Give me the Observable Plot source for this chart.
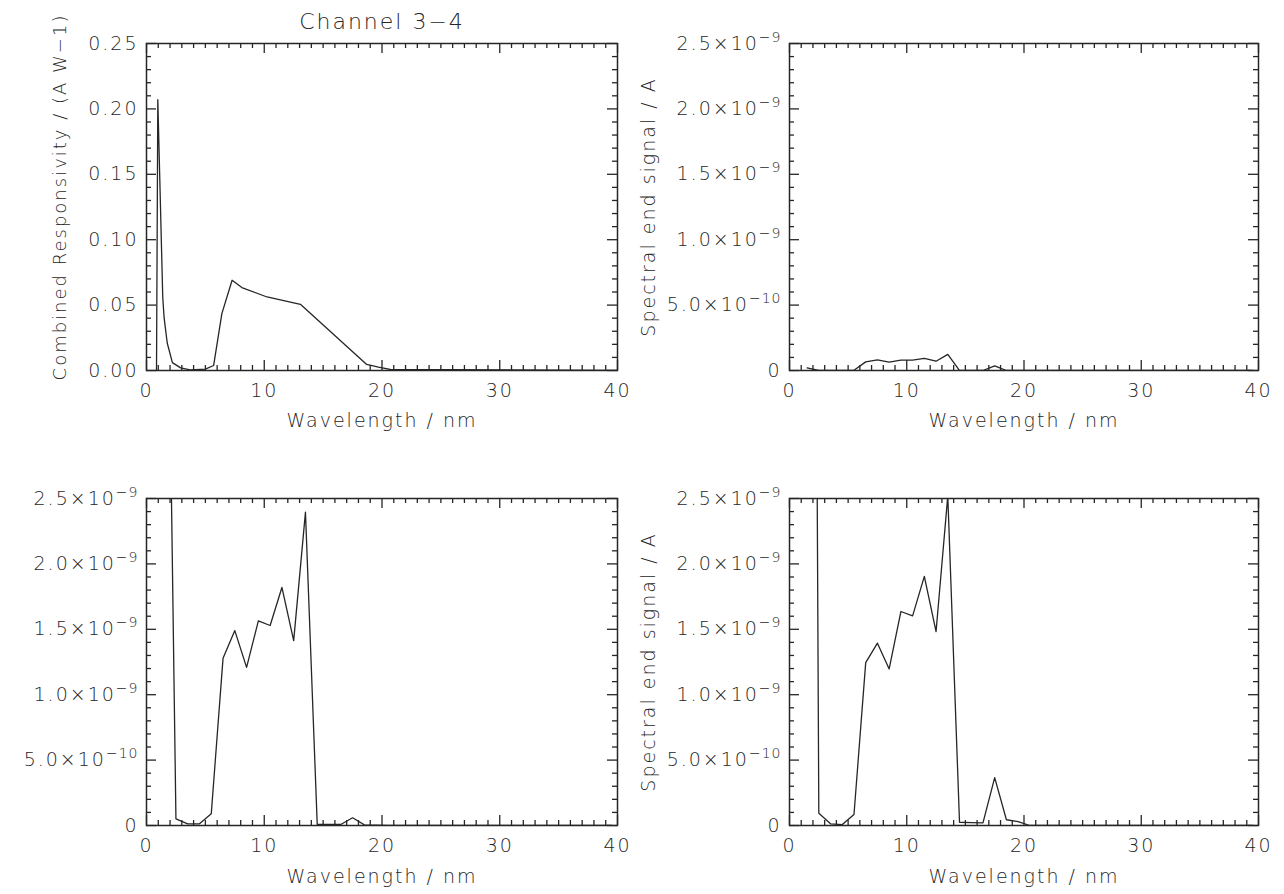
<!DOCTYPE html>
<html><head><meta charset="utf-8">
<script src="https://cdn.jsdelivr.net/npm/d3@7"></script>
<script src="https://cdn.jsdelivr.net/npm/@observablehq/plot@0.6"></script>
<style>
body{margin:0;background:#fff;}
#root{position:relative;width:1284px;height:894px;background:#fff;overflow:hidden;}
.panel{position:absolute;}
.panel svg{overflow:visible;}
</style></head><body><div id="root"></div>
<script>
const FONT = '"DejaVu Sans", sans-serif';
const INK = "#262626";

const title = "Channel 3−4";
const xLabel = "Wavelength / nm";
const yLabelResp = "Combined Responsivity / (A W−1)";
const yLabelSig = "Spectral end signal / A";

const xTicks = [0, 10, 20, 30, 40];
const xTickLabels = ["0", "10", "20", "30", "40"];
const respTicks = [0, 0.05, 0.10, 0.15, 0.20, 0.25];
const respTickLabels = ["0.00", "0.05", "0.10", "0.15", "0.20", "0.25"];
const sigTicks = [0, 5e-10, 1e-9, 1.5e-9, 2e-9, 2.5e-9];
const sigTickLabels = ["0", "5.0×10^−10", "1.0×10^−9", "1.5×10^−9", "2.0×10^−9", "2.5×10^−9"];

// Top-left: combined responsivity
const respWavelength = [0.85, 0.96, 1.38, 1.5, 1.76, 2.2, 2.9, 3.7, 5.0, 5.7, 6.4, 7.27, 8.1, 10.24, 13.07, 18.7, 19.7, 20.7, 40];
const respValue      = [0, 0.207, 0.056, 0.040, 0.021, 0.006, 0.002, 0.0005, 0.001, 0.0038, 0.0435, 0.069, 0.0634, 0.0562, 0.0506, 0.0046, 0.0025, 0.0008, 0];

// Spectral end signal panels (A)
const sigWavelength = [1.5, 2.5, 3.5, 4.5, 5.5, 6.5, 7.5, 8.5, 9.5, 10.5, 11.5, 12.5, 13.5, 14.5, 15.5, 16.5, 17.5, 18.5, 19.5, 20.5, 39.5];
const sigTopRight    = [2.0e-11, 0, 0, 0, 2e-12, 6.6e-11, 8.1e-11, 6.4e-11, 7.9e-11, 7.9e-11, 9.2e-11, 7.1e-11, 1.23e-10, 0, 0, 0, 3.5e-11, 0, 0, 0, 0];
const sigBottomLeft  = [6.5e-9, 5.1e-11, 1.3e-11, 1.3e-11, 9.0e-11, 1.278e-9, 1.49e-9, 1.209e-9, 1.565e-9, 1.529e-9, 1.82e-9, 1.413e-9, 2.396e-9, 8e-12, 8e-12, 8e-12, 5.9e-11, 5e-12, 2e-12, 0, 0];
const sigBottomRight = [1.8e-8, 9.4e-11, 1.3e-11, 7e-12, 8.4e-11, 1.245e-9, 1.394e-9, 1.197e-9, 1.636e-9, 1.603e-9, 1.905e-9, 1.483e-9, 2.52e-9, 2.5e-11, 2.2e-11, 2.0e-11, 3.66e-10, 4.4e-11, 3.0e-11, 0, 0];

function superscripts(svg) {
  svg.querySelectorAll("text").forEach(t => {
    const s = t.textContent;
    const k = s.indexOf("^");
    if (k < 0) return;
    t.textContent = "";
    const ns = "http://www.w3.org/2000/svg";
    const a = document.createElementNS(ns, "tspan");
    a.textContent = s.slice(0, k);
    const b = document.createElementNS(ns, "tspan");
    b.textContent = s.slice(k + 1);
    b.setAttribute("dy", "-8");
    b.setAttribute("font-size", "14");
    b.setAttribute("letter-spacing", "1");
    t.appendChild(a); t.appendChild(b);
  });
}

function panel(o) {
  const W = 642, H = 447;
  const fh = H - o.mTop - o.mBottom;
  const fw = W - o.mLeft - o.mRight;
  const data = o.xs.map((x, i) => ({x, y: o.ys[i]}));
  const xMinor = d3.range(1, 40).filter(d => d % 10 !== 0);
  const yMinor = d3.range(1, 25).filter(d => d % 5 !== 0).map(d => d * o.yMinorStep);
  const sw = 1.3;
  const marks = [
    Plot.line(data, {x: "x", y: "y", stroke: INK, strokeWidth: 1.3, clip: true}),
    Plot.ruleX(xTicks, {stroke: INK, strokeWidth: sw, insetTop: fh - 10}),
    Plot.ruleX(xTicks, {stroke: INK, strokeWidth: sw, insetBottom: fh - 10}),
    Plot.ruleX(xMinor, {stroke: INK, strokeWidth: sw, insetTop: fh - 5}),
    Plot.ruleX(xMinor, {stroke: INK, strokeWidth: sw, insetBottom: fh - 5}),
    Plot.ruleY(o.yTicks, {stroke: INK, strokeWidth: sw, insetRight: fw - 10}),
    Plot.ruleY(o.yTicks, {stroke: INK, strokeWidth: sw, insetLeft: fw - 10}),
    Plot.ruleY(yMinor, {stroke: INK, strokeWidth: sw, insetRight: fw - 5}),
    Plot.ruleY(yMinor, {stroke: INK, strokeWidth: sw, insetLeft: fw - 5}),
    Plot.frame({stroke: INK, strokeWidth: 1.5}),
    Plot.axisX(xTicks, {tickSize: 0, tickPadding: 13, label: null, tickFormat: d => xTickLabels[xTicks.indexOf(d)]}),
    Plot.axisY(o.yTicks, {tickSize: 0, tickPadding: 8, label: null, tickFormat: d => o.yTickLabels[o.yTicks.indexOf(d)]}),
    Plot.text([xLabel], {frameAnchor: "bottom", dy: o.xLabelDy, text: d => d, fill: INK, fontSize: 19})
  ];
  if (o.yLabel) marks.push(Plot.text([o.yLabel], {frameAnchor: "left", textAnchor: "middle", rotate: -90, dx: o.yLabelDx, dy: o.yLabelDy || 0, text: d => d, fill: INK, fontSize: o.yLabelSize || 19}));
  if (o.title) marks.push(Plot.text([o.title], {frameAnchor: "top", dy: -30, text: d => d, fill: INK, fontSize: 22}));
  const chart = Plot.plot({
    width: W, height: H,
    marginTop: o.mTop, marginBottom: o.mBottom, marginLeft: o.mLeft, marginRight: o.mRight,
    style: {fontFamily: FONT, fontSize: "19px", fontWeight: 200, color: INK, background: "transparent", letterSpacing: "2px"},
    x: {domain: [0, 40]},
    y: {domain: o.yDomain},
    marks
  });
  superscripts(chart);
  const div = document.createElement("div");
  div.className = "panel";
  div.style.left = o.left + "px";
  div.style.top = o.top + "px";
  div.appendChild(chart);
  document.getElementById("root").appendChild(div);
}

panel({left: 0, top: 0, mTop: 43, mBottom: 77, mLeft: 146, mRight: 25,
  yDomain: [0, 0.25], yTicks: respTicks, yTickLabels: respTickLabels, yMinorStep: 0.01,
  xs: respWavelength, ys: respValue, yLabel: yLabelResp, yLabelDx: -86, yLabelDy: -10, yLabelSize: 18, title, xLabelDy: 56});
panel({left: 642, top: 0, mTop: 43, mBottom: 77, mLeft: 147, mRight: 26,
  yDomain: [0, 2.5e-9], yTicks: sigTicks, yTickLabels: sigTickLabels, yMinorStep: 1e-10,
  xs: sigWavelength, ys: sigTopRight, yLabel: yLabelSig, yLabelDx: -141, xLabelDy: 56});
panel({left: 0, top: 447, mTop: 51, mBottom: 69, mLeft: 146, mRight: 25,
  yDomain: [0, 2.5e-9], yTicks: sigTicks, yTickLabels: sigTickLabels, yMinorStep: 1e-10,
  xs: sigWavelength, ys: sigBottomLeft, yLabel: null, xLabelDy: 57});
panel({left: 642, top: 447, mTop: 51, mBottom: 69, mLeft: 147, mRight: 26,
  yDomain: [0, 2.5e-9], yTicks: sigTicks, yTickLabels: sigTickLabels, yMinorStep: 1e-10,
  xs: sigWavelength, ys: sigBottomRight, yLabel: yLabelSig, yLabelDx: -141, xLabelDy: 57});
</script></body></html>
